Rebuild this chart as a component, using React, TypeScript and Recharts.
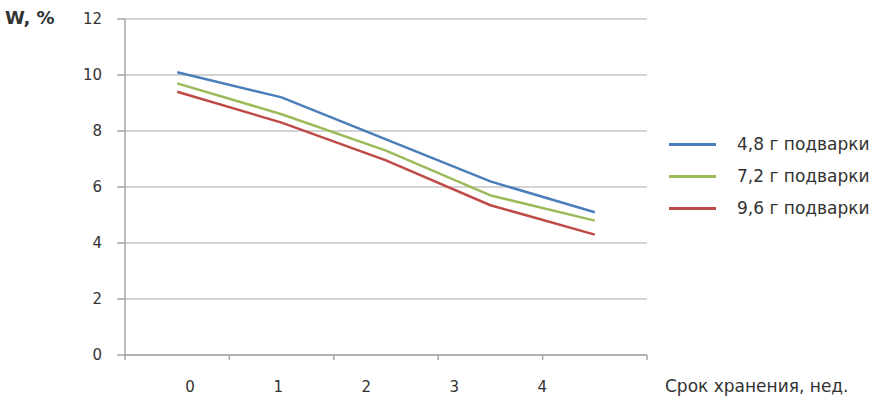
import { LineChart, Line, XAxis, YAxis, CartesianGrid } from 'recharts';

const weeks = [0, 1, 2, 3, 4];
const series48 = [10.1, 9.2, 7.7, 6.2, 5.1];
const series72 = [9.7, 8.6, 7.3, 5.7, 4.8];
const series96 = [9.4, 8.3, 6.95, 5.35, 4.3];
const yTicks = [0, 2, 4, 6, 8, 10, 12];
const boundaryTicks = [-0.5, 0.5, 1.5, 2.5, 3.5, 4.5];

const colors = {
  s48: '#4a7ebb',
  s72: '#9bbb59',
  s96: '#be4b48',
  grid: '#c4c4c4',
  axis: '#a6a6a6',
  text: '#333333',
};

const legendItems = [
  { name: '4,8 г подварки', color: colors.s48 },
  { name: '7,2 г подварки', color: colors.s72 },
  { name: '9,6 г подварки', color: colors.s96 },
];

const data = weeks.map((w, i) => ({
  week: w,
  s48: series48[i],
  s72: series72[i],
  s96: series96[i],
}));

const tickStyle = {
  fontSize: 15,
  fill: colors.text,
  fontFamily: '"DejaVu Sans", sans-serif',
};

const textFont = '"DejaVu Sans", sans-serif';

export default function App() {
  return (
    <div
      style={{
        position: 'absolute',
        left: 0,
        top: 0,
        width: 891,
        height: 414,
        background: '#fff',
      }}
    >
      <LineChart
        width={891}
        height={414}
        data={data}
        margin={{ top: 19, right: 244, left: 65, bottom: 0 }}
      >
        <CartesianGrid
          vertical={false}
          stroke={colors.grid}
          strokeWidth={1.5}
        />
        <YAxis
          domain={[0, 12]}
          ticks={yTicks}
          width={60}
          tick={tickStyle}
          tickSize={8}
          tickMargin={15}
          stroke={colors.axis}
          axisLine={{ stroke: colors.axis, strokeWidth: 1.5 }}
          tickLine={{ stroke: colors.axis, strokeWidth: 1.5 }}
        />
        <XAxis
          dataKey="week"
          type="number"
          domain={[-0.5, 4.5]}
          ticks={boundaryTicks}
          tickFormatter={() => ''}
          height={20}
          tickSize={5}
          axisLine={{ stroke: colors.axis, strokeWidth: 1.5 }}
          tickLine={{ stroke: colors.axis, strokeWidth: 1.5 }}
        />
        <XAxis
          xAxisId="lbl"
          dataKey="week"
          type="number"
          domain={[-0.74, 5.19]}
          ticks={weeks}
          height={39}
          tickSize={0}
          tickMargin={6}
          axisLine={false}
          tickLine={false}
          tick={tickStyle}
        />
        <Line
          type="linear"
          dataKey="s48"
          stroke={colors.s48}
          strokeWidth={2.5}
          dot={false}
          isAnimationActive={false}
        />
        <Line
          type="linear"
          dataKey="s72"
          stroke={colors.s72}
          strokeWidth={2.5}
          dot={false}
          isAnimationActive={false}
        />
        <Line
          type="linear"
          dataKey="s96"
          stroke={colors.s96}
          strokeWidth={2.5}
          dot={false}
          isAnimationActive={false}
        />
      </LineChart>

      <div
        style={{
          position: 'absolute',
          left: 5,
          top: 7,
          fontSize: 18,
          fontWeight: 700,
          color: colors.text,
          fontFamily: textFont,
        }}
      >
        W, %
      </div>

      <div
        style={{
          position: 'absolute',
          left: 669,
          top: 128,
          fontFamily: textFont,
          fontSize: 17,
          color: colors.text,
        }}
      >
        {legendItems.map((item) => (
          <div
            key={item.name}
            style={{ display: 'flex', alignItems: 'center', height: 32 }}
          >
            <span
              style={{
                width: 47,
                height: 3,
                background: item.color,
                marginRight: 21,
              }}
            />
            <span>{item.name}</span>
          </div>
        ))}
      </div>

      <div
        style={{
          position: 'absolute',
          left: 665,
          top: 376,
          fontFamily: textFont,
          fontSize: 17,
          color: colors.text,
        }}
      >
        Срок хранения, нед.
      </div>
    </div>
  );
}
